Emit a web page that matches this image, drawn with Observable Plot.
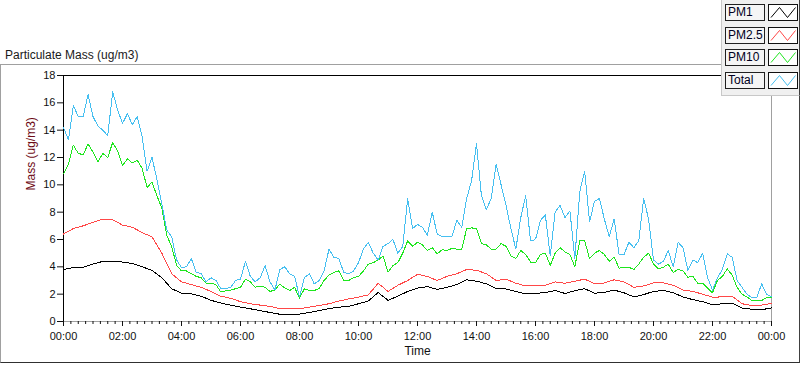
<!DOCTYPE html>
<html><head><meta charset="utf-8">
<script src="https://cdn.jsdelivr.net/npm/d3@7"></script>
<script src="https://cdn.jsdelivr.net/npm/@observablehq/plot@0.6"></script>
<style>
html,body{margin:0;padding:0;background:#fff;}
#wrap{position:relative;width:800px;height:365px;overflow:hidden;font-family:"Liberation Sans",Arial,sans-serif;}
#frame{position:absolute;left:0;top:64px;width:800px;height:299px;box-sizing:border-box;border-top:1px solid #a0a0a0;border-left:1px solid #a0a0a0;border-right:1px solid #404040;border-bottom:1px solid #303030;}
#title{position:absolute;left:5px;top:49px;font-size:12px;line-height:12px;color:#1a1a1a;white-space:nowrap;}
#chart{position:absolute;left:0;top:0;}
#legend{position:absolute;left:721px;top:0;width:79px;height:96px;box-sizing:border-box;background:#f0f0f0;border-left:1px solid #c8c8c8;border-bottom:1px solid #c8c8c8;border-right:1px solid #404040;}
.lbl{position:absolute;left:3px;width:40px;height:17px;box-sizing:border-box;border:1px solid #202020;background:#f5f5f5;font-size:12px;line-height:15px;padding-left:2px;color:#000020;white-space:nowrap;}
.smp{position:absolute;left:46px;width:30px;height:17px;box-sizing:border-box;border:1px solid #101010;background:#fff;}
.smp svg{position:absolute;left:0;top:0;}
</style></head><body>
<div id="wrap">
<div id="frame"></div>
<div id="title">Particulate Mass (ug/m3)</div>
<div id="chart"></div>
<div id="legend"></div>
</div>
<script>
// ---- data (minutes since midnight; PM1 / PM2.5 sampled every 20 min, PM10 / Total every 10 min) ----
const seriesNames = ["PM1", "PM2.5", "PM10", "Total"];
const seriesColors = ["#000000", "#ff4848", "#1ee61e", "#46bff0"];
const tickMinutes = [0, 120, 240, 360, 480, 600, 720, 840, 960, 1080, 1200, 1320, 1440];
const tickLabels = ["00:00","02:00","04:00","06:00","08:00","10:00","12:00","14:00","16:00","18:00","20:00","22:00","00:00"];
const yTicks = [0, 2, 4, 6, 8, 10, 12, 14, 16, 18];

const pm1 = [3.8,3.95,3.97,4.2,4.4,4.4,4.35,4.25,4.0,3.75,
3.2,2.4,2.07,2.03,1.85,1.55,1.35,1.2,1.05,0.93,
0.8,0.66,0.53,0.51,0.54,0.66,0.8,0.95,1.05,1.1,
1.3,1.5,2.12,1.55,1.85,2.2,2.45,2.55,2.35,2.5,
2.7,3.05,2.95,2.76,2.4,2.38,2.2,2.02,2.05,2.12,
2.27,2.05,2.25,2.4,2.07,2.12,2.3,2.1,1.8,1.97,
2.2,2.27,2.1,1.8,1.6,1.45,1.22,1.3,1.35,0.98,
0.9,0.86,1.0];

const pm25 = [6.4,6.8,7.0,7.25,7.5,7.45,7.05,6.9,6.5,6.2,
5.0,3.5,2.9,2.7,2.5,2.2,1.85,1.7,1.45,1.3,
1.2,1.1,0.95,0.93,0.93,1.05,1.17,1.3,1.5,1.65,
1.78,1.95,2.8,2.2,2.65,3.0,3.45,3.3,3.0,3.3,
3.5,3.8,3.75,3.5,3.0,3.1,2.8,2.6,2.63,2.65,
2.9,2.8,2.95,3.1,2.76,2.82,3.05,2.9,2.5,2.6,
2.82,2.83,2.65,2.3,2.2,2.0,1.78,1.8,1.85,1.3,
1.17,1.2,1.32];

const pm10 = [10.8,11.5,12.9,12.3,12.2,13.0,12.4,11.7,12.3,12.0,
13.1,12.5,11.4,11.9,11.6,11.8,11.2,9.8,10.2,9.2,
8.3,6.3,5.5,4.1,3.7,3.7,3.5,3.3,3.2,2.8,
2.8,2.7,2.15,2.25,2.3,2.4,2.5,3.1,2.9,2.5,
2.6,2.5,2.2,2.3,2.75,2.45,2.27,2.5,1.7,2.4,
2.27,2.27,2.4,3.0,3.4,3.6,3.7,3.0,3.0,3.2,
3.3,3.7,4.2,4.3,4.5,4.8,3.6,4.1,4.3,5.0,
5.9,5.5,5.8,5.6,5.2,5.4,4.95,5.25,5.2,5.35,
5.3,5.3,6.8,6.85,6.8,5.7,5.6,5.3,5.3,5.7,
5.5,4.8,4.6,5.2,4.9,4.35,4.3,4.9,5.0,4.1,
5.0,5.4,5.1,4.9,4.0,5.9,5.9,4.6,5.0,5.2,
4.9,4.4,4.7,3.9,3.97,3.97,3.8,4.2,4.7,5.0,
4.2,3.85,3.97,4.2,3.6,3.8,3.7,3.24,3.3,2.8,
2.8,2.45,2.1,3.0,3.3,3.85,3.4,2.5,2.0,1.8,
1.54,1.54,1.54,1.75,1.78];

const total = [14.2,13.3,15.8,15.0,15.0,16.6,15.0,14.3,14.0,13.6,
16.8,15.5,14.5,15.2,14.4,15.0,13.5,11.0,12.0,10.4,
8.6,6.7,6.2,4.5,3.95,4.0,4.6,3.6,3.5,2.9,
3.2,3.0,2.4,2.4,2.5,3.0,3.1,4.4,3.3,2.9,
3.2,4.1,2.9,2.3,3.8,4.0,3.5,3.3,1.8,3.2,
3.5,2.75,3.0,3.7,5.3,4.7,4.6,3.6,3.5,3.7,
4.3,5.3,5.8,5.0,4.5,5.5,5.7,6.0,5.0,5.5,
9.0,6.8,7.1,6.9,6.3,8.0,6.4,6.2,6.2,6.2,
7.4,6.9,9.0,10.3,13.0,9.2,8.2,9.0,11.5,10.0,
8.5,6.8,5.3,7.6,9.2,5.9,6.0,7.4,7.8,4.8,
8.0,8.5,7.6,8.1,4.6,9.5,11.0,7.3,8.8,9.0,
7.5,6.2,7.5,4.9,4.9,5.8,5.4,5.9,9.0,7.5,
4.5,4.2,4.4,5.2,4.0,5.8,5.4,3.73,4.5,4.3,
5.0,3.2,2.3,3.2,3.8,4.95,4.7,3.0,2.5,2.0,
1.75,1.75,2.76,2.0,1.8];

// ---- build table ----
const seriesValues = [pm1, pm25, pm10, total];
const rows = seriesValues.flatMap((arr, k) =>
  arr.map((v, i) => ({t: i * 1440 / (arr.length - 1), v, name: seriesNames[k]})));
const minorTicks = d3.range(0, 1441, 15);

const chart = Plot.plot({
  width: 800, height: 365,
  marginLeft: 63, marginRight: 29, marginTop: 75, marginBottom: 44,
  style: {background: "transparent", fontFamily: "'Liberation Sans', Arial, sans-serif", fontSize: "11px", color: "#111"},
  x: {domain: [0, 1440], axis: null},
  y: {domain: [0, 18], axis: null},
  color: {domain: seriesNames, range: seriesColors},
  marks: [
    Plot.ruleY([0], {stroke: "#a0a0a0"}),
    Plot.ruleX([1440], {stroke: "#a0a0a0"}),
    Plot.ruleY([18], {stroke: "#000"}),
    Plot.ruleX([0], {stroke: "#000"}),
    Plot.line(rows, {x: "t", y: "v", z: "name", stroke: "name", strokeWidth: 1, shapeRendering: "crispEdges"}),
    Plot.axisY({ticks: yTicks, tickSize: 6, tickPadding: 2, label: null}),
    Plot.axisX({ticks: minorTicks, tickSize: 3, tickFormat: () => "", label: null}),
    Plot.axisX({ticks: tickMinutes, tickSize: 5, tickPadding: 6, tickFormat: d => tickLabels[tickMinutes.indexOf(d)], label: null}),
    Plot.text(["Mass (ug/m3)"], {text: d => d, frameAnchor: "left", dx: -32, dy: -8, rotate: -90, fill: "#6e0b16", fontSize: 12}),
    Plot.text(["Time"], {text: d => d, frameAnchor: "bottom", dy: 33, fontSize: 12, fill: "#111"})
  ]
});
document.getElementById("chart").appendChild(chart);

// ---- legend ----
const legend = document.getElementById("legend");
const rowTops = [4, 27, 49, 72];
seriesNames.forEach((name, i) => {
  const lbl = document.createElement("div");
  lbl.className = "lbl";
  lbl.style.top = rowTops[i] + "px";
  lbl.textContent = name;
  legend.appendChild(lbl);
  const smp = document.createElement("div");
  smp.className = "smp";
  smp.style.top = rowTops[i] + "px";
  smp.innerHTML = `<svg width="28" height="15"><polyline points="2,12.5 10.5,2.5 18.5,12.5 26.5,2.5" fill="none" stroke="${seriesColors[i]}" stroke-width="1"/></svg>`;
  legend.appendChild(smp);
});
</script>
</body></html>
